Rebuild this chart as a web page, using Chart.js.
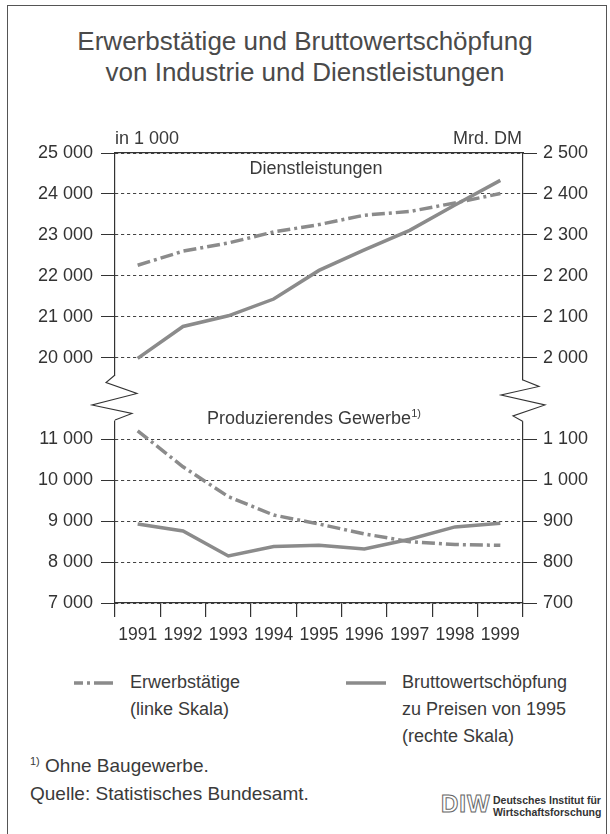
<!DOCTYPE html>
<html lang="de">
<head>
<meta charset="utf-8">
<title>Erwerbstätige und Bruttowertschöpfung</title>
<script src="https://cdn.jsdelivr.net/npm/chart.js@4.4.1/dist/chart.umd.min.js"></script>
<style>
  html, body { margin: 0; padding: 0; background: #fff; }
  body { width: 610px; height: 834px; position: relative; overflow: hidden;
         font-family: "Liberation Sans", Arial, sans-serif; color: #3a3a3a; }
  .frame { position: absolute; left: 7px; top: 5px; width: 600px; height: 840px;
           border: 1.5px solid #555; border-bottom: none; box-sizing: border-box; }
  .title { position: absolute; left: 0; top: 26px; width: 610px; text-align: center;
           font-size: 26px; line-height: 31px; color: #4a4a4a; }
  #chartBox { position: absolute; left: 0; top: 0; width: 610px; height: 650px; }
  .lbl { position: absolute; font-size: 18px; line-height: 20px; white-space: nowrap; }
  .legend { position: absolute; font-size: 18px; line-height: 27px; white-space: nowrap; }
  .note { position: absolute; font-size: 19px; line-height: 22px; white-space: nowrap; }
  sup { font-size: 11px; line-height: 0; vertical-align: 7px; }
  .logo { position: absolute; left: 441px; top: 791px; font-size: 24px; font-weight: bold;
          line-height: 26px; letter-spacing: 1px; color: #fff; -webkit-text-stroke: 1px #666; }
  .logoText { position: absolute; left: 493px; top: 794px;
              font-size: 10.5px; font-weight: bold; line-height: 12px; color: #333; white-space: nowrap; }
</style>
</head>
<body>
<div class="frame"></div>
<div class="title">Erwerbstätige und Bruttowertschöpfung<br>von Industrie und Dienstleistungen</div>

<div id="chartBox"><canvas id="chart"></canvas></div>

<div class="lbl" style="left:115px; top:128px;">in 1 000</div>
<div class="lbl" style="right:88px; top:128px;">Mrd. DM</div>
<div class="lbl" style="left:316px; top:158px; transform:translateX(-50%);">Dienstleistungen</div>
<div class="lbl" style="left:207px; top:408px;">Produzierendes Gewerbe<sup>1)</sup></div>

<svg style="position:absolute; left:74px; top:676px;" width="40" height="14">
  <line x1="0" y1="7" x2="39" y2="7" stroke="#8b8b8b" stroke-width="3.5" stroke-dasharray="9 4 3 4 20"/>
</svg>
<div class="legend" style="left:130px; top:669px;">Erwerbstätige<br>(linke Skala)</div>
<svg style="position:absolute; left:346px; top:676px;" width="40" height="14">
  <line x1="0" y1="7" x2="40" y2="7" stroke="#8b8b8b" stroke-width="3.5"/>
</svg>
<div class="legend" style="left:402px; top:669px;">Bruttowertschöpfung<br>zu Preisen von 1995<br>(rechte Skala)</div>

<div class="note" style="left:30px; top:755px;"><sup>1)</sup> Ohne Baugewerbe.</div>
<div class="note" style="left:30px; top:783px;">Quelle: Statistisches Bundesamt.</div>
<div class="logo">DIW</div>
<div class="logoText">Deutsches Institut für<br>Wirtschaftsforschung</div>

<script>
// Jahre
const years = ['1991', '1992', '1993', '1994', '1995', '1996', '1997', '1998', '1999'];

// Dienstleistungen: Erwerbstätige (in 1 000, linke Skala), BWS (Mrd. DM, rechte Skala)
const dienstErwerb = [22255, 22600, 22800, 23070, 23250, 23480, 23570, 23780, 24010];
const dienstBWS = [1998, 2076, 2102, 2143, 2213, 2263, 2311, 2373, 2433];

// Produzierendes Gewerbe
const prodErwerb = [11210, 10330, 9600, 9150, 8930, 8690, 8500, 8430, 8410];
const prodBWS = [893, 876, 815, 838, 841, 832, 856, 886, 895];

// Achsenbereiche (der unterste bzw. oberste Wert liegt im Achsenbruch)
const leftTop = [19000, 25000];
const leftBottom = [7000, 12000];
const rightTop = [1900, 2500];
const rightBottom = [700, 1200];

const FONT = '"Liberation Sans", Arial, sans-serif';
const GREY = '#8b8b8b';
const INK = '#333';

const fmt = v => String(v).replace(/\B(?=(\d{3})+(?!\d))/g, ' ');

function yScale(pos, weight, range, step, hidden) {
  return {
    type: 'linear',
    position: pos,
    stack: pos,
    stackWeight: weight,
    min: range[0],
    max: range[1],
    afterBuildTicks: s => { s.ticks = s.ticks.filter(t => t.value !== hidden); },
    afterFit: s => { s.width = pos === 'left' ? 115 : 87; },
    ticks: {
      stepSize: step,
      padding: pos === 'left' ? 8 : 6,
      color: INK,
      font: { family: FONT, size: 18 },
      callback: v => fmt(v)
    },
    grid: { color: '#444', lineWidth: 1, tickLength: 14, tickColor: INK },
    border: { display: true, color: INK, width: 1.2, dash: [3, 3] }
  };
}

// Zickzack am Achsenbruch
const axisBreak = {
  id: 'axisBreak',
  afterDraw(chart) {
    const { ctx, chartArea } = chart;
    const yb = chart.scales.yR1.bottom;
    ctx.save();
    ctx.fillStyle = '#fff';
    ctx.fillRect(chartArea.left - 2, yb - 23, 4, 45);
    ctx.fillRect(chartArea.right - 2, yb - 18, 4, 41);
    ctx.strokeStyle = INK;
    ctx.lineWidth = 1.1;
    const zig = (x, pts) => {
      ctx.beginPath();
      pts.forEach(([dx, dy], i) => i ? ctx.lineTo(x + dx, yb + dy) : ctx.moveTo(x + dx, yb + dy));
      ctx.stroke();
    };
    zig(chartArea.left, [[0, -23.5], [-9, -16], [22, -5], [-23, 6.5], [17, 15], [0, 21.5]]);
    zig(chartArea.right, [[0, -18.5], [16, -12], [-22, -3.5], [22, 6.5], [-10, 17.5], [0, 23]]);
    ctx.restore();
  }
};

const line = (data, axis, dashed) => ({
  data,
  yAxisID: axis,
  borderColor: GREY,
  borderWidth: 3.5,
  borderDash: dashed ? [13, 4, 3, 4] : [],
  pointRadius: 0,
  tension: 0,
  fill: false
});

new Chart(document.getElementById('chart'), {
  type: 'line',
  data: {
    labels: years,
    datasets: [
      line(dienstErwerb, 'yL1', true),
      line(dienstBWS, 'yR1', false),
      line(prodErwerb, 'yL2', true),
      line(prodBWS, 'yR2', false)
    ]
  },
  options: {
    responsive: true,
    maintainAspectRatio: false,
    animation: false,
    layout: { padding: { top: 133, left: 0, right: 0, bottom: 2 } },
    plugins: { legend: { display: false }, tooltip: { enabled: false } },
    scales: {
      x: {
        type: 'category',
        offset: true,
        afterFit: s => { s.height = 45; },
        grid: { offset: true, drawOnChartArea: false, tickLength: 14, color: INK, lineWidth: 1.2 },
        border: { display: true, color: INK, width: 1.2 },
        ticks: { color: INK, padding: 8, maxRotation: 0, autoSkip: false, font: { family: FONT, size: 17.5 } }
      },
      x2: {
        type: 'category',
        position: 'top',
        afterFit: s => { s.height = 20; },
        grid: { display: false },
        ticks: { display: false },
        border: { display: true, color: INK, width: 1.2 }
      },
      // linke Achsen werden in umgekehrter Reihenfolge gestapelt
      yL2: yScale('left', 5, leftBottom, 1000, leftBottom[1]),
      yL1: yScale('left', 6, leftTop, 1000, leftTop[0]),
      yR1: yScale('right', 6, rightTop, 100, rightTop[0]),
      yR2: yScale('right', 5, rightBottom, 100, rightBottom[1])
    }
  },
  plugins: [axisBreak]
});
</script>
</body>
</html>
